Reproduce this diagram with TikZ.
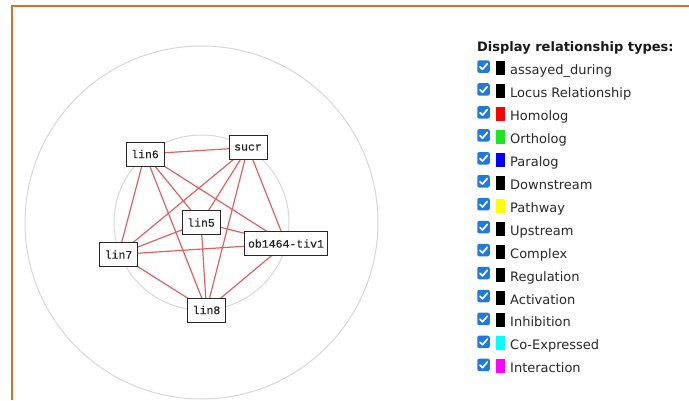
\documentclass[tikz,border=0pt]{standalone}
\usepackage{fontspec}
\setmainfont{DejaVu Sans}
\newfontfamily\genefont[RawFeature={embolden=0.5}]{Liberation Mono}
\usetikzlibrary{backgrounds,calc}

\definecolor{frameorange}{RGB}{214,110,40}
\definecolor{ringgray}{RGB}{215,215,215}
\definecolor{linkred}{RGB}{230,95,95}
\definecolor{boxblue}{RGB}{32,122,222}
\definecolor{legendtext}{RGB}{40,40,40}
\definecolor{swblack}{RGB}{0,0,0}
\definecolor{swred}{RGB}{255,0,0}
\definecolor{swgreen}{RGB}{30,230,30}
\definecolor{swblue}{RGB}{0,0,255}
\definecolor{swyellow}{RGB}{255,255,0}
\definecolor{swcyan}{RGB}{0,255,255}
\definecolor{swmagenta}{RGB}{255,0,255}

\tikzset{
  ring/.style={draw=ringgray, line width=1pt},
  gene/.style={draw=black!85, fill=white, line width=1pt, text=black!85,
    font=\genefont\fontsize{11.5}{12}\selectfont,
    minimum width=38pt, minimum height=24pt, inner xsep=4pt, inner ysep=0pt},
  link/.style={draw=linkred, line width=1.2pt},
  tickbox/.style={fill=boxblue, rounded corners=2pt, minimum size=12.5pt, inner sep=0pt},
  legendlabel/.style={anchor=base west, inner sep=0pt, text=legendtext, font=\fontsize{13}{15}\selectfont},
}

\begin{document}
\begin{tikzpicture}[x=1pt,y=-1pt]
\useasboundingbox (0,0) rectangle (689,400);

% panel frame (top and left edges)
\draw[frameorange, line width=2pt] (12,400) -- (12,6) -- (689,6);

% concentric guide rings
\draw[ring] (201.5,222.5) circle[radius=176.5];
\draw[ring] (201.5,222.5) circle[radius=87.5];

% gene nodes
\node[gene] (lin6) at (145,154)   {lin6};
\node[gene] (sucr) at (248,147.5) {sucr};
\node[gene] (lin5) at (201,222.5) {lin5};
\node[gene] (ob)   at (286,243.5) {ob1464-tiv1};
\node[gene] (lin7) at (118.5,254.5) {lin7};
\node[gene] (lin8) at (206.5,310) {lin8};

% homolog links between every pair of genes
\begin{pgfonlayer}{background}
  \foreach \a/\b in {lin6/sucr, lin6/lin5, lin6/ob, lin6/lin7, lin6/lin8,
                     sucr/lin5, sucr/ob, sucr/lin7, sucr/lin8,
                     lin5/ob, lin5/lin7, lin5/lin8,
                     ob/lin7, ob/lin8, lin7/lin8}
    \draw[link] (\a.center) -- (\b.center);
\end{pgfonlayer}

% legend
\node[anchor=base west, inner sep=0pt, text=black!90, font=\bfseries\fontsize{13}{15}\selectfont]
  (title) at (477,51) {Display relationship types:};

\foreach \lbl/\col [count=\i from 0] in {
    assayed\_during/swblack, Locus Relationship/swblack, Homolog/swred,
    Ortholog/swgreen, Paralog/swblue, Downstream/swblack, Pathway/swyellow,
    Upstream/swblack, Complex/swblack, Regulation/swblack, Activation/swblack,
    Inhibition/swblack, Co-Expressed/swcyan, Interaction/swmagenta} {
  \pgfmathsetmacro{\r}{66.5+22.95*\i}
  \node[tickbox] (cb\i) at (483.5,\r) {};
  \draw[white, line width=1.7pt, line cap=round, line join=round]
    ($(cb\i.center)+(-3.6,0.2)$) -- ($(cb\i.center)+(-1,2.8)$) -- ($(cb\i.center)+(3.8,-2.8)$);
  \fill[\col] (496,\r-5.5) rectangle (505,\r+8.5);
  \node[legendlabel] (lbl\i) at (510,\r+8) {\lbl};
}
\end{tikzpicture}
\end{document}
